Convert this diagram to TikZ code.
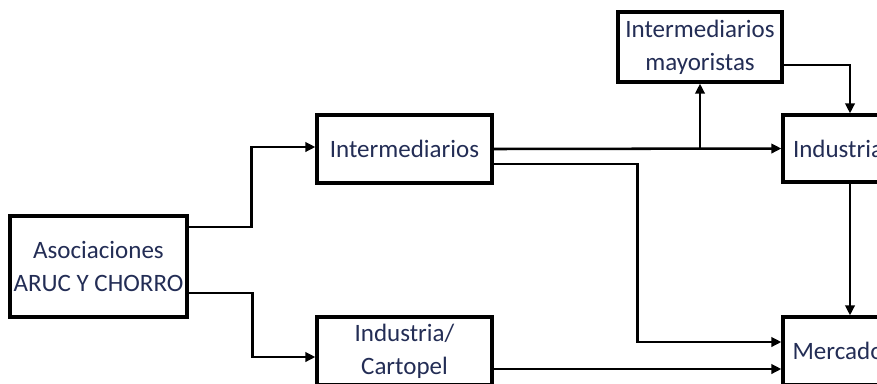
\documentclass[tikz,border=0pt]{standalone}
\usepackage{fontspec}
\setmainfont{Carlito}
\usepackage{xcolor}
\usetikzlibrary{arrows.meta}

\definecolor{textoazul}{RGB}{35,45,85}

\tikzset{
  caja/.style={draw=black, line width=2.4pt, fill=white, align=center, inner sep=0pt,
    font=\fontsize{18.75}{24.75}\selectfont, text=textoazul},
  flecha/.style={draw=black, line width=1.9pt, -{Triangle[length=7.5pt,width=7pt]}},
}

\begin{document}
\begin{tikzpicture}[x=0.75pt,y=0.75pt,yscale=-1,xscale=1]
%set diagram left start at 0, and has height of 383
\clip (0,0) rectangle (877,383);
\path[fill=white] (0,0) rectangle (877,383);

% Text Node
\node [caja, minimum width=132.75pt, minimum height=75.75pt] (asoc) at (98.5,266.5) {Asociaciones\\ARUC Y CHORRO};
% Text Node
\node [caja, minimum width=131.25pt, minimum height=51pt] (intermed) at (404.5,149) {Intermediarios};
% Text Node
\node [caja, minimum width=131.25pt, minimum height=51pt] (cartopel) at (404.5,351) {Industria/\\Cartopel};
% Text Node
\node [caja, minimum width=123pt, minimum height=52.5pt] (mayor) at (700,47) {Intermediarios\\mayoristas};
% Text Node
\node [caja, minimum width=82.5pt, minimum height=50.25pt] (industria) at (838,148.5) {Industria};
% Text Node
\node [caja, minimum width=82.5pt, minimum height=51pt] (mercado) at (838,351) {Mercado};

%Straight Lines
\draw [flecha] ([yshift=-29.6pt]asoc.east) -- ++(63,0) |- ([yshift=-1.5pt]intermed.west);
%Straight Lines
\draw [flecha] ([yshift=19.9pt]asoc.east) -- ++(64,0) |- ([yshift=4.5pt]cartopel.west);
%Straight Lines
\draw [flecha] (intermed.east) -- (industria.west);
%Straight Lines
\draw [flecha] (intermed.east -| mayor.south) -- (mayor.south);
%Straight Lines
\draw [flecha] ([yshift=13.5pt]mayor.east) -| ([xshift=9pt]industria.north);
%Straight Lines
\draw [flecha] ([yshift=11.25pt]intermed.east) -- ++(144,0) |- ([yshift=-6.75pt]mercado.west);
%Straight Lines
\draw [flecha] ([yshift=13.5pt]cartopel.east) -- ([yshift=13.5pt]mercado.west);
%Straight Lines
\draw [flecha] ([xshift=9pt]industria.south) -- ([xshift=9pt]mercado.north);

\end{tikzpicture}
\end{document}
